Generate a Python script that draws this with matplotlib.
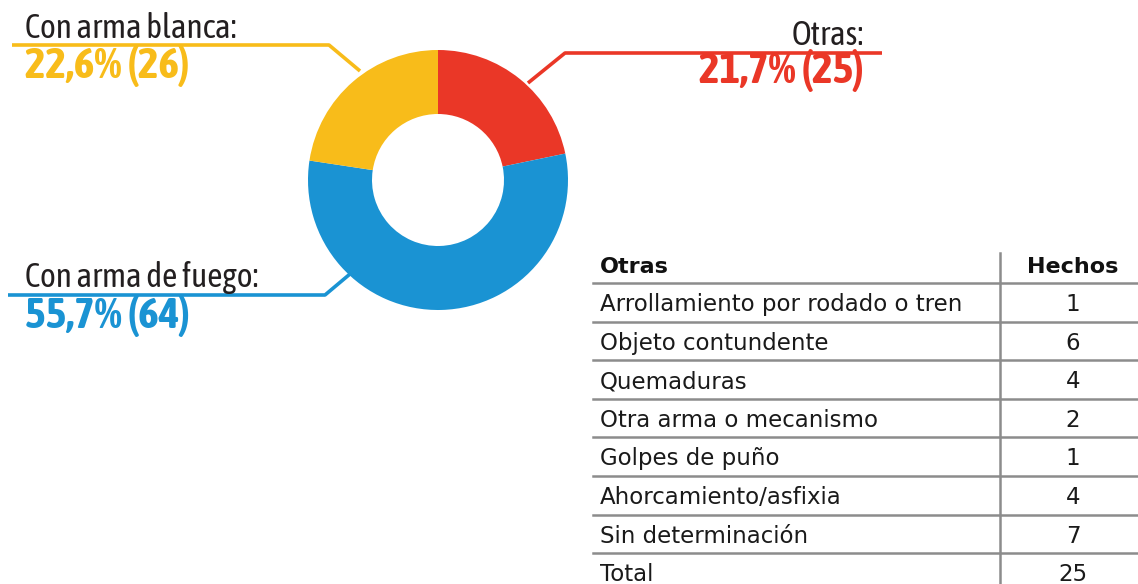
import matplotlib
matplotlib.use("Agg")
import matplotlib.pyplot as plt
from matplotlib import font_manager as fm

# Donut data (clockwise from 12 o'clock)
categorias = ["Otras", "Con arma de fuego", "Con arma blanca"]
hechos = [25, 64, 26]
colores = ["#EA3727", "#1A93D3", "#F8BC1A"]

# Breakdown of "Otras"
otras_tipos = ["Arrollamiento por rodado o tren", "Objeto contundente", "Quemaduras",
               "Otra arma o mecanismo", "Golpes de puño", "Ahorcamiento/asfixia",
               "Sin determinación"]
otras_hechos = [1, 6, 4, 2, 1, 4, 7]

W, H = 1138, 584
fig = plt.figure(figsize=(W / 100, H / 100), dpi=100)
ax = fig.add_axes([0, 0, 1, 1])

def Y(y):
    # pixel row (from top) -> data y
    return H - y

def wnum(w):
    if isinstance(w, str):
        return {"bold": 700, "normal": 400, "regular": 400}.get(w, 400)
    return w

# pick a condensed face that also has a bold weight
faces = {}
for f in fm.fontManager.ttflist:
    if "Narrow" in f.name or "Condensed" in f.name:
        faces.setdefault(f.name, set()).add(wnum(f.weight))
with_bold = [n for n, ws in faces.items() if max(ws) >= 600]
if with_bold:
    cond, fs_lab, fs_num = [with_bold[0], "DejaVu Sans"], 24, 31.5
elif faces:
    cond, fs_lab, fs_num = [list(faces)[0], "DejaVu Sans"], 24, 30
else:
    cond, fs_lab, fs_num = ["Roboto", "DejaVu Sans"], 20.5, 25

# Donut
cx, cy, r_out, r_in = 438, 180, 130, 66
ax.pie(hechos, colors=colores, startangle=90, counterclock=False,
       radius=r_out, center=(cx, Y(cy)),
       wedgeprops=dict(width=r_out - r_in, edgecolor="none", linewidth=0))

total = sum(hechos)
pct = [100 * v / total for v in hechos]
fmt = lambda p, v: f"{p:.1f}".replace(".", ",") + f"% ({v})"

lw = 2.6
txt = "#231F20"

# Otras (red, right)
ax.plot([528, 565, 882], [Y(83), Y(53), Y(53)], color=colores[0], lw=lw, solid_capstyle="butt")
ax.text(864, Y(45), categorias[0] + ":", ha="right", va="baseline",
        fontsize=fs_lab, family=cond, color=txt)
ax.text(864, Y(83), fmt(pct[0], hechos[0]), ha="right", va="baseline",
        fontsize=fs_num, family=cond, fontweight="bold", color=colores[0])

# Con arma blanca (yellow, top left)
ax.plot([360, 329, 12], [Y(71), Y(45), Y(45)], color=colores[2], lw=lw, solid_capstyle="butt")
ax.text(25, Y(38), categorias[2] + ":", ha="left", va="baseline",
        fontsize=fs_lab, family=cond, color=txt)
ax.text(25, Y(78), fmt(pct[2], hechos[2]), ha="left", va="baseline",
        fontsize=fs_num, family=cond, fontweight="bold", color=colores[2])

# Con arma de fuego (blue, bottom left)
ax.plot([350, 325, 8], [Y(274), Y(295), Y(295)], color=colores[1], lw=lw, solid_capstyle="butt")
ax.text(25, Y(287), categorias[1] + ":", ha="left", va="baseline",
        fontsize=fs_lab, family=cond, color=txt)
ax.text(25, Y(328), fmt(pct[1], hechos[1]), ha="left", va="baseline",
        fontsize=fs_num, family=cond, fontweight="bold", color=colores[1])

# Table
grid = "#8C8C8C"
tx0, tx1, vx, numx = 593, 1138, 1000, 1073
line0, row_h = 283, 38.6
ax.plot([vx, vx], [Y(253), Y(584)], color=grid, lw=1.8)
ax.text(600, Y(273), "Otras", ha="left", va="baseline", fontsize=16, fontweight="bold", color="#111111")
ax.text(numx, Y(273), "Hechos", ha="center", va="baseline", fontsize=16, fontweight="bold", color="#111111")
filas = otras_tipos + ["Total"]
valores = otras_hechos + [sum(otras_hechos)]
for i, (t, v) in enumerate(zip(filas, valores)):
    top = line0 + i * row_h
    ax.plot([tx0, tx1], [Y(top), Y(top)], color=grid, lw=1.8)
    ax.text(600, Y(top + 28), t, ha="left", va="baseline", fontsize=16.5, color="#1a1a1a")
    ax.text(numx, Y(top + 28), str(v), ha="center", va="baseline", fontsize=16.5, color="#1a1a1a")

ax.set_xlim(0, W)
ax.set_ylim(0, H)
ax.set_aspect("equal")
ax.axis("off")

fig.savefig("out.png", dpi=100, facecolor="white")
